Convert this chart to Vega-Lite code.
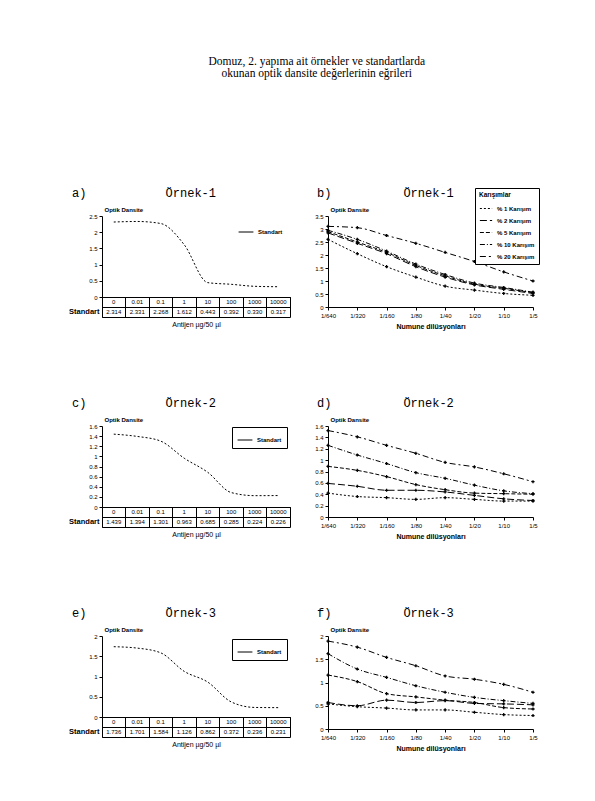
{
  "$schema": "https://vega.github.io/schema/vega-lite/v6.json",
  "background": "white",
  "padding": {"left": 68, "top": 56, "right": 5, "bottom": 5},
  "title": {
    "text": ["Domuz, 2. yapıma ait örnekler ve standartlarda", "okunan optik dansite değerlerinin eğrileri"],
    "font": "Liberation Serif", "fontSize": 11.5, "lineHeight": 12, "anchor": "middle", "offset": 107, "dx": 13, "color": "black", "fontWeight": "normal"
  },
  "datasets": {
    "std": [
      {"panel": "a", "order": 1, "conc": "0", "od": 2.314},
      {"panel": "a", "order": 2, "conc": "0.01", "od": 2.331},
      {"panel": "a", "order": 3, "conc": "0.1", "od": 2.268},
      {"panel": "a", "order": 4, "conc": "1", "od": 1.612},
      {"panel": "a", "order": 5, "conc": "10", "od": 0.443},
      {"panel": "a", "order": 6, "conc": "100", "od": 0.392},
      {"panel": "a", "order": 7, "conc": "1000", "od": 0.330},
      {"panel": "a", "order": 8, "conc": "10000", "od": 0.317},
      {"panel": "c", "order": 1, "conc": "0", "od": 1.439},
      {"panel": "c", "order": 2, "conc": "0.01", "od": 1.394},
      {"panel": "c", "order": 3, "conc": "0.1", "od": 1.301},
      {"panel": "c", "order": 4, "conc": "1", "od": 0.963},
      {"panel": "c", "order": 5, "conc": "10", "od": 0.685},
      {"panel": "c", "order": 6, "conc": "100", "od": 0.285},
      {"panel": "c", "order": 7, "conc": "1000", "od": 0.224},
      {"panel": "c", "order": 8, "conc": "10000", "od": 0.226},
      {"panel": "e", "order": 1, "conc": "0", "od": 1.736},
      {"panel": "e", "order": 2, "conc": "0.01", "od": 1.701},
      {"panel": "e", "order": 3, "conc": "0.1", "od": 1.584},
      {"panel": "e", "order": 4, "conc": "1", "od": 1.126},
      {"panel": "e", "order": 5, "conc": "10", "od": 0.862},
      {"panel": "e", "order": 6, "conc": "100", "od": 0.372},
      {"panel": "e", "order": 7, "conc": "1000", "od": 0.236},
      {"panel": "e", "order": 8, "conc": "10000", "od": 0.231}
    ],
    "dil": [
      {"panel": "b", "series": "% 20 Karışım", "order": 1, "dil": "1/640", "od": 3.1},
      {"panel": "b", "series": "% 20 Karışım", "order": 2, "dil": "1/320", "od": 3.05},
      {"panel": "b", "series": "% 20 Karışım", "order": 3, "dil": "1/160", "od": 2.75},
      {"panel": "b", "series": "% 20 Karışım", "order": 4, "dil": "1/80", "od": 2.45},
      {"panel": "b", "series": "% 20 Karışım", "order": 5, "dil": "1/40", "od": 2.1},
      {"panel": "b", "series": "% 20 Karışım", "order": 6, "dil": "1/20", "od": 1.75},
      {"panel": "b", "series": "% 20 Karışım", "order": 7, "dil": "1/10", "od": 1.35},
      {"panel": "b", "series": "% 20 Karışım", "order": 8, "dil": "1/5", "od": 1.0},
      {"panel": "b", "series": "% 10 Karışım", "order": 1, "dil": "1/640", "od": 2.95},
      {"panel": "b", "series": "% 10 Karışım", "order": 2, "dil": "1/320", "od": 2.6},
      {"panel": "b", "series": "% 10 Karışım", "order": 3, "dil": "1/160", "od": 2.15},
      {"panel": "b", "series": "% 10 Karışım", "order": 4, "dil": "1/80", "od": 1.65},
      {"panel": "b", "series": "% 10 Karışım", "order": 5, "dil": "1/40", "od": 1.25},
      {"panel": "b", "series": "% 10 Karışım", "order": 6, "dil": "1/20", "od": 0.92},
      {"panel": "b", "series": "% 10 Karışım", "order": 7, "dil": "1/10", "od": 0.75},
      {"panel": "b", "series": "% 10 Karışım", "order": 8, "dil": "1/5", "od": 0.57},
      {"panel": "b", "series": "% 5 Karışım", "order": 1, "dil": "1/640", "od": 2.9},
      {"panel": "b", "series": "% 5 Karışım", "order": 2, "dil": "1/320", "od": 2.5},
      {"panel": "b", "series": "% 5 Karışım", "order": 3, "dil": "1/160", "od": 2.1},
      {"panel": "b", "series": "% 5 Karışım", "order": 4, "dil": "1/80", "od": 1.6},
      {"panel": "b", "series": "% 5 Karışım", "order": 5, "dil": "1/40", "od": 1.2},
      {"panel": "b", "series": "% 5 Karışım", "order": 6, "dil": "1/20", "od": 0.88},
      {"panel": "b", "series": "% 5 Karışım", "order": 7, "dil": "1/10", "od": 0.72},
      {"panel": "b", "series": "% 5 Karışım", "order": 8, "dil": "1/5", "od": 0.55},
      {"panel": "b", "series": "% 2 Karışım", "order": 1, "dil": "1/640", "od": 2.85},
      {"panel": "b", "series": "% 2 Karışım", "order": 2, "dil": "1/320", "od": 2.45},
      {"panel": "b", "series": "% 2 Karışım", "order": 3, "dil": "1/160", "od": 2.05},
      {"panel": "b", "series": "% 2 Karışım", "order": 4, "dil": "1/80", "od": 1.55},
      {"panel": "b", "series": "% 2 Karışım", "order": 5, "dil": "1/40", "od": 1.15},
      {"panel": "b", "series": "% 2 Karışım", "order": 6, "dil": "1/20", "od": 0.85},
      {"panel": "b", "series": "% 2 Karışım", "order": 7, "dil": "1/10", "od": 0.68},
      {"panel": "b", "series": "% 2 Karışım", "order": 8, "dil": "1/5", "od": 0.52},
      {"panel": "b", "series": "% 1 Karışım", "order": 1, "dil": "1/640", "od": 2.6},
      {"panel": "b", "series": "% 1 Karışım", "order": 2, "dil": "1/320", "od": 2.05},
      {"panel": "b", "series": "% 1 Karışım", "order": 3, "dil": "1/160", "od": 1.55},
      {"panel": "b", "series": "% 1 Karışım", "order": 4, "dil": "1/80", "od": 1.15},
      {"panel": "b", "series": "% 1 Karışım", "order": 5, "dil": "1/40", "od": 0.8},
      {"panel": "b", "series": "% 1 Karışım", "order": 6, "dil": "1/20", "od": 0.65},
      {"panel": "b", "series": "% 1 Karışım", "order": 7, "dil": "1/10", "od": 0.52},
      {"panel": "b", "series": "% 1 Karışım", "order": 8, "dil": "1/5", "od": 0.45},
      {"panel": "d", "series": "% 20 Karışım", "order": 1, "dil": "1/640", "od": 1.52},
      {"panel": "d", "series": "% 20 Karışım", "order": 2, "dil": "1/320", "od": 1.41},
      {"panel": "d", "series": "% 20 Karışım", "order": 3, "dil": "1/160", "od": 1.26},
      {"panel": "d", "series": "% 20 Karışım", "order": 4, "dil": "1/80", "od": 1.12},
      {"panel": "d", "series": "% 20 Karışım", "order": 5, "dil": "1/40", "od": 0.96},
      {"panel": "d", "series": "% 20 Karışım", "order": 6, "dil": "1/20", "od": 0.88},
      {"panel": "d", "series": "% 20 Karışım", "order": 7, "dil": "1/10", "od": 0.76},
      {"panel": "d", "series": "% 20 Karışım", "order": 8, "dil": "1/5", "od": 0.62},
      {"panel": "d", "series": "% 10 Karışım", "order": 1, "dil": "1/640", "od": 1.26},
      {"panel": "d", "series": "% 10 Karışım", "order": 2, "dil": "1/320", "od": 1.09},
      {"panel": "d", "series": "% 10 Karışım", "order": 3, "dil": "1/160", "od": 0.94},
      {"panel": "d", "series": "% 10 Karışım", "order": 4, "dil": "1/80", "od": 0.78},
      {"panel": "d", "series": "% 10 Karışım", "order": 5, "dil": "1/40", "od": 0.68},
      {"panel": "d", "series": "% 10 Karışım", "order": 6, "dil": "1/20", "od": 0.56},
      {"panel": "d", "series": "% 10 Karışım", "order": 7, "dil": "1/10", "od": 0.46},
      {"panel": "d", "series": "% 10 Karışım", "order": 8, "dil": "1/5", "od": 0.41},
      {"panel": "d", "series": "% 5 Karışım", "order": 1, "dil": "1/640", "od": 0.89},
      {"panel": "d", "series": "% 5 Karışım", "order": 2, "dil": "1/320", "od": 0.82},
      {"panel": "d", "series": "% 5 Karışım", "order": 3, "dil": "1/160", "od": 0.71},
      {"panel": "d", "series": "% 5 Karışım", "order": 4, "dil": "1/80", "od": 0.57},
      {"panel": "d", "series": "% 5 Karışım", "order": 5, "dil": "1/40", "od": 0.48},
      {"panel": "d", "series": "% 5 Karışım", "order": 6, "dil": "1/20", "od": 0.42},
      {"panel": "d", "series": "% 5 Karışım", "order": 7, "dil": "1/10", "od": 0.41},
      {"panel": "d", "series": "% 5 Karışım", "order": 8, "dil": "1/5", "od": 0.40},
      {"panel": "d", "series": "% 2 Karışım", "order": 1, "dil": "1/640", "od": 0.59},
      {"panel": "d", "series": "% 2 Karışım", "order": 2, "dil": "1/320", "od": 0.54},
      {"panel": "d", "series": "% 2 Karışım", "order": 3, "dil": "1/160", "od": 0.47},
      {"panel": "d", "series": "% 2 Karışım", "order": 4, "dil": "1/80", "od": 0.47},
      {"panel": "d", "series": "% 2 Karışım", "order": 5, "dil": "1/40", "od": 0.44},
      {"panel": "d", "series": "% 2 Karışım", "order": 6, "dil": "1/20", "od": 0.38},
      {"panel": "d", "series": "% 2 Karışım", "order": 7, "dil": "1/10", "od": 0.32},
      {"panel": "d", "series": "% 2 Karışım", "order": 8, "dil": "1/5", "od": 0.29},
      {"panel": "d", "series": "% 1 Karışım", "order": 1, "dil": "1/640", "od": 0.42},
      {"panel": "d", "series": "% 1 Karışım", "order": 2, "dil": "1/320", "od": 0.36},
      {"panel": "d", "series": "% 1 Karışım", "order": 3, "dil": "1/160", "od": 0.34},
      {"panel": "d", "series": "% 1 Karışım", "order": 4, "dil": "1/80", "od": 0.31},
      {"panel": "d", "series": "% 1 Karışım", "order": 5, "dil": "1/40", "od": 0.34},
      {"panel": "d", "series": "% 1 Karışım", "order": 6, "dil": "1/20", "od": 0.31},
      {"panel": "d", "series": "% 1 Karışım", "order": 7, "dil": "1/10", "od": 0.28},
      {"panel": "d", "series": "% 1 Karışım", "order": 8, "dil": "1/5", "od": 0.28},
      {"panel": "f", "series": "% 20 Karışım", "order": 1, "dil": "1/640", "od": 1.89},
      {"panel": "f", "series": "% 20 Karışım", "order": 2, "dil": "1/320", "od": 1.76},
      {"panel": "f", "series": "% 20 Karışım", "order": 3, "dil": "1/160", "od": 1.54},
      {"panel": "f", "series": "% 20 Karışım", "order": 4, "dil": "1/80", "od": 1.36},
      {"panel": "f", "series": "% 20 Karışım", "order": 5, "dil": "1/40", "od": 1.14},
      {"panel": "f", "series": "% 20 Karışım", "order": 6, "dil": "1/20", "od": 1.07},
      {"panel": "f", "series": "% 20 Karışım", "order": 7, "dil": "1/10", "od": 0.96},
      {"panel": "f", "series": "% 20 Karışım", "order": 8, "dil": "1/5", "od": 0.79},
      {"panel": "f", "series": "% 10 Karışım", "order": 1, "dil": "1/640", "od": 1.62},
      {"panel": "f", "series": "% 10 Karışım", "order": 2, "dil": "1/320", "od": 1.29},
      {"panel": "f", "series": "% 10 Karışım", "order": 3, "dil": "1/160", "od": 1.11},
      {"panel": "f", "series": "% 10 Karışım", "order": 4, "dil": "1/80", "od": 0.93},
      {"panel": "f", "series": "% 10 Karışım", "order": 5, "dil": "1/40", "od": 0.79},
      {"panel": "f", "series": "% 10 Karışım", "order": 6, "dil": "1/20", "od": 0.68},
      {"panel": "f", "series": "% 10 Karışım", "order": 7, "dil": "1/10", "od": 0.61},
      {"panel": "f", "series": "% 10 Karışım", "order": 8, "dil": "1/5", "od": 0.55},
      {"panel": "f", "series": "% 5 Karışım", "order": 1, "dil": "1/640", "od": 1.16},
      {"panel": "f", "series": "% 5 Karışım", "order": 2, "dil": "1/320", "od": 1.02},
      {"panel": "f", "series": "% 5 Karışım", "order": 3, "dil": "1/160", "od": 0.76},
      {"panel": "f", "series": "% 5 Karışım", "order": 4, "dil": "1/80", "od": 0.69},
      {"panel": "f", "series": "% 5 Karışım", "order": 5, "dil": "1/40", "od": 0.62},
      {"panel": "f", "series": "% 5 Karışım", "order": 6, "dil": "1/20", "od": 0.57},
      {"panel": "f", "series": "% 5 Karışım", "order": 7, "dil": "1/10", "od": 0.46},
      {"panel": "f", "series": "% 5 Karışım", "order": 8, "dil": "1/5", "od": 0.43},
      {"panel": "f", "series": "% 2 Karışım", "order": 1, "dil": "1/640", "od": 0.57},
      {"panel": "f", "series": "% 2 Karışım", "order": 2, "dil": "1/320", "od": 0.50},
      {"panel": "f", "series": "% 2 Karışım", "order": 3, "dil": "1/160", "od": 0.62},
      {"panel": "f", "series": "% 2 Karışım", "order": 4, "dil": "1/80", "od": 0.57},
      {"panel": "f", "series": "% 2 Karışım", "order": 5, "dil": "1/40", "od": 0.61},
      {"panel": "f", "series": "% 2 Karışım", "order": 6, "dil": "1/20", "od": 0.55},
      {"panel": "f", "series": "% 2 Karışım", "order": 7, "dil": "1/10", "od": 0.54},
      {"panel": "f", "series": "% 2 Karışım", "order": 8, "dil": "1/5", "od": 0.52},
      {"panel": "f", "series": "% 1 Karışım", "order": 1, "dil": "1/640", "od": 0.54},
      {"panel": "f", "series": "% 1 Karışım", "order": 2, "dil": "1/320", "od": 0.48},
      {"panel": "f", "series": "% 1 Karışım", "order": 3, "dil": "1/160", "od": 0.45},
      {"panel": "f", "series": "% 1 Karışım", "order": 4, "dil": "1/80", "od": 0.41},
      {"panel": "f", "series": "% 1 Karışım", "order": 5, "dil": "1/40", "od": 0.41},
      {"panel": "f", "series": "% 1 Karışım", "order": 6, "dil": "1/20", "od": 0.36},
      {"panel": "f", "series": "% 1 Karışım", "order": 7, "dil": "1/10", "od": 0.31},
      {"panel": "f", "series": "% 1 Karışım", "order": 8, "dil": "1/5", "od": 0.29}
    ]
  },
  "spacing": 68,
  "resolve": {"scale": {"color": "independent", "strokeDash": "independent"}, "legend": {"color": "independent", "strokeDash": "independent"}},
  "vconcat": [
    {
      "spacing": 23,
      "resolve": {"scale": {"color": "independent", "strokeDash": "independent"}, "legend": {"color": "independent", "strokeDash": "independent"}},
      "hconcat": [
        {
          "spacing": 0,
          "bounds": "flush",
          "resolve": {"scale": {"color": "independent"}, "legend": {"color": "independent"}},
          "vconcat": [
            {
              "width": 188, "height": 81,
              "title": {"text": "a)\u00a0\u00a0\u00a0\u00a0\u00a0\u00a0\u00a0\u00a0\u00a0\u00a0\u00a0Örnek-1", "anchor": "start", "frame": "group", "dx": -30, "offset": 6},
              "data": {"name": "std"},
              "transform": [{"filter": "datum.panel == 'a'"}],
              "mark": {"type": "line", "interpolate": "monotone", "strokeDash": [2, 2], "strokeWidth": 1},
              "encoding": {
                "x": {"field": "conc", "type": "ordinal", "sort": {"field": "order"}, "bandPosition": 0.5, "scale": {"type": "band", "paddingInner": 0, "paddingOuter": 0}, "axis": {"labels": false, "ticks": false, "title": null}},
                "y": {"field": "od", "type": "quantitative", "scale": {"domain": [0, 2.5]}, "axis": {"values": [0, 0.5, 1, 1.5, 2, 2.5], "format": "~g", "title": "Optik Dansite"}},
                "color": {"datum": "Standart", "type": "nominal", "scale": {"range": ["black"]}, "legend": {"orient": "none", "legendX": 132, "legendY": 4, "title": null}}
              }
            },
            {
              "width": 188, "height": 20,
              "data": {"name": "std"},
              "transform": [{"filter": "datum.panel == 'a'"}],
              "view": {"stroke": "black", "strokeWidth": 1},
              "encoding": {
                "x": {"field": "conc", "type": "ordinal", "sort": {"field": "order"}, "scale": {"type": "band", "paddingInner": 0, "paddingOuter": 0}, "axis": {"labels": false, "ticks": false, "domain": false, "grid": true, "gridColor": "black", "gridOpacity": 1, "bandPosition": 0, "title": "Antijen µg/50 µl", "titlePadding": 3, "titleFontWeight": "normal"}}
              },
              "layer": [
                {"mark": {"type": "text", "fontSize": 6, "color": "black"}, "encoding": {"y": {"datum": "Antijen", "type": "nominal", "scale": {"type": "band", "domain": ["Antijen", "Standart"], "paddingInner": 0, "paddingOuter": 0}, "axis": {"title": null, "domain": false, "ticks": false, "grid": true, "gridColor": "black", "gridOpacity": 1, "bandPosition": 0, "labelExpr": "datum.value == 'Standart' ? 'Standart' : ''", "labelFontSize": 7.5, "labelFontWeight": "bold", "labelPadding": 3}}, "text": {"field": "conc"}}},
                {"mark": {"type": "text", "fontSize": 6, "color": "black"}, "encoding": {"y": {"datum": "Standart", "type": "nominal"}, "text": {"field": "od", "format": ".3f"}}}
              ]
            }
          ]
        },
        {
          "width": 205, "height": 91,
          "title": {"text": "b)\u00a0\u00a0\u00a0\u00a0\u00a0\u00a0\u00a0\u00a0\u00a0\u00a0Örnek-1", "anchor": "start", "frame": "group", "dx": -11, "offset": -12},
          "data": {"name": "dil"},
          "transform": [{"filter": "datum.panel == 'b'"}],
          "encoding": {
            "x": {"field": "dil", "type": "ordinal", "sort": {"field": "order"}, "scale": {"type": "point", "padding": 0}, "axis": {"labelAngle": 0, "title": "Numune dilüsyonları"}},
            "y": {"field": "od", "type": "quantitative", "scale": {"domain": [0, 3.5]}, "axis": {"values": [0, 0.5, 1, 1.5, 2, 2.5, 3, 3.5], "format": "~g", "title": "Optik Dansite"}}
          },
          "layer": [
            {"mark": {"type": "line", "interpolate": "monotone", "strokeWidth": 1, "color": "black"},
             "encoding": {"strokeDash": {"field": "series", "type": "nominal", "scale": {"domain": ["% 1 Karışım", "% 2 Karışım", "% 5 Karışım", "% 10 Karışım", "% 20 Karışım"], "range": [[2, 2], [7, 3], [4, 2], [5, 2, 1, 2], [6, 3, 2, 3]]}, "legend": {"orient": "none", "legendX": 147, "legendY": -28, "title": "Karışımlar", "strokeColor": "black", "fillColor": "white", "symbolType": "stroke", "symbolSize": 150}}}},
            {"mark": {"type": "point", "shape": "cross", "filled": true, "color": "black", "size": 10, "opacity": 1}, "encoding": {}}
          ]
        }
      ]
    },
    {
      "spacing": 23,
      "resolve": {"scale": {"color": "independent", "strokeDash": "independent"}, "legend": {"color": "independent", "strokeDash": "independent"}},
      "hconcat": [
        {
          "spacing": 0,
          "bounds": "flush",
          "resolve": {"scale": {"color": "independent"}, "legend": {"color": "independent"}},
          "vconcat": [
            {
              "width": 188, "height": 81,
              "title": {"text": "c)\u00a0\u00a0\u00a0\u00a0\u00a0\u00a0\u00a0\u00a0\u00a0\u00a0\u00a0Örnek-2", "anchor": "start", "frame": "group", "dx": -30, "offset": 6},
              "data": {"name": "std"},
              "transform": [{"filter": "datum.panel == 'c'"}],
              "mark": {"type": "line", "interpolate": "monotone", "strokeDash": [2, 2], "strokeWidth": 1},
              "encoding": {
                "x": {"field": "conc", "type": "ordinal", "sort": {"field": "order"}, "bandPosition": 0.5, "scale": {"type": "band", "paddingInner": 0, "paddingOuter": 0}, "axis": {"labels": false, "ticks": false, "title": null}},
                "y": {"field": "od", "type": "quantitative", "scale": {"domain": [0, 1.6]}, "axis": {"values": [0, 0.2, 0.4, 0.6, 0.8, 1, 1.2, 1.4, 1.6], "format": "~g", "title": "Optik Dansite"}},
                "color": {"datum": "Standart", "type": "nominal", "scale": {"range": ["black"]}, "legend": {"orient": "none", "legendX": 130, "legendY": 1, "title": null, "strokeColor": "black", "fillColor": "white", "padding": 5}}
              }
            },
            {
              "width": 188, "height": 20,
              "data": {"name": "std"},
              "transform": [{"filter": "datum.panel == 'c'"}],
              "view": {"stroke": "black", "strokeWidth": 1},
              "encoding": {
                "x": {"field": "conc", "type": "ordinal", "sort": {"field": "order"}, "scale": {"type": "band", "paddingInner": 0, "paddingOuter": 0}, "axis": {"labels": false, "ticks": false, "domain": false, "grid": true, "gridColor": "black", "gridOpacity": 1, "bandPosition": 0, "title": "Antijen µg/50 µl", "titlePadding": 3, "titleFontWeight": "normal"}}
              },
              "layer": [
                {"mark": {"type": "text", "fontSize": 6, "color": "black"}, "encoding": {"y": {"datum": "Antijen", "type": "nominal", "scale": {"type": "band", "domain": ["Antijen", "Standart"], "paddingInner": 0, "paddingOuter": 0}, "axis": {"title": null, "domain": false, "ticks": false, "grid": true, "gridColor": "black", "gridOpacity": 1, "bandPosition": 0, "labelExpr": "datum.value == 'Standart' ? 'Standart' : ''", "labelFontSize": 7.5, "labelFontWeight": "bold", "labelPadding": 3}}, "text": {"field": "conc"}}},
                {"mark": {"type": "text", "fontSize": 6, "color": "black"}, "encoding": {"y": {"datum": "Standart", "type": "nominal"}, "text": {"field": "od", "format": ".3f"}}}
              ]
            }
          ]
        },
        {
          "width": 205, "height": 91,
          "title": {"text": "d)\u00a0\u00a0\u00a0\u00a0\u00a0\u00a0\u00a0\u00a0\u00a0\u00a0Örnek-2", "anchor": "start", "frame": "group", "dx": -11, "offset": 6},
          "data": {"name": "dil"},
          "transform": [{"filter": "datum.panel == 'd'"}],
          "encoding": {
            "x": {"field": "dil", "type": "ordinal", "sort": {"field": "order"}, "scale": {"type": "point", "padding": 0}, "axis": {"labelAngle": 0, "title": "Numune dilüsyonları"}},
            "y": {"field": "od", "type": "quantitative", "scale": {"domain": [0, 1.6]}, "axis": {"values": [0, 0.2, 0.4, 0.6, 0.8, 1, 1.2, 1.4, 1.6], "format": "~g", "title": "Optik Dansite"}}
          },
          "layer": [
            {"mark": {"type": "line", "interpolate": "monotone", "strokeWidth": 1, "color": "black"},
             "encoding": {"strokeDash": {"field": "series", "type": "nominal", "scale": {"domain": ["% 1 Karışım", "% 2 Karışım", "% 5 Karışım", "% 10 Karışım", "% 20 Karışım"], "range": [[2, 2], [7, 3], [4, 2], [5, 2, 1, 2], [6, 3, 2, 3]]}, "legend": null}}},
            {"mark": {"type": "point", "shape": "cross", "filled": true, "color": "black", "size": 10, "opacity": 1}, "encoding": {}}
          ]
        }
      ]
    },
    {
      "spacing": 23,
      "resolve": {"scale": {"color": "independent", "strokeDash": "independent"}, "legend": {"color": "independent", "strokeDash": "independent"}},
      "hconcat": [
        {
          "spacing": 0,
          "bounds": "flush",
          "resolve": {"scale": {"color": "independent"}, "legend": {"color": "independent"}},
          "vconcat": [
            {
              "width": 188, "height": 81,
              "title": {"text": "e)\u00a0\u00a0\u00a0\u00a0\u00a0\u00a0\u00a0\u00a0\u00a0\u00a0\u00a0Örnek-3", "anchor": "start", "frame": "group", "dx": -30, "offset": 6},
              "data": {"name": "std"},
              "transform": [{"filter": "datum.panel == 'e'"}],
              "mark": {"type": "line", "interpolate": "monotone", "strokeDash": [2, 2], "strokeWidth": 1},
              "encoding": {
                "x": {"field": "conc", "type": "ordinal", "sort": {"field": "order"}, "bandPosition": 0.5, "scale": {"type": "band", "paddingInner": 0, "paddingOuter": 0}, "axis": {"labels": false, "ticks": false, "title": null}},
                "y": {"field": "od", "type": "quantitative", "scale": {"domain": [0, 2]}, "axis": {"values": [0, 0.5, 1, 1.5, 2], "format": "~g", "title": "Optik Dansite"}},
                "color": {"datum": "Standart", "type": "nominal", "scale": {"range": ["black"]}, "legend": {"orient": "none", "legendX": 130, "legendY": 3, "title": null, "strokeColor": "black", "fillColor": "white", "padding": 5}}
              }
            },
            {
              "width": 188, "height": 20,
              "data": {"name": "std"},
              "transform": [{"filter": "datum.panel == 'e'"}],
              "view": {"stroke": "black", "strokeWidth": 1},
              "encoding": {
                "x": {"field": "conc", "type": "ordinal", "sort": {"field": "order"}, "scale": {"type": "band", "paddingInner": 0, "paddingOuter": 0}, "axis": {"labels": false, "ticks": false, "domain": false, "grid": true, "gridColor": "black", "gridOpacity": 1, "bandPosition": 0, "title": "Antijen µg/50 µl", "titlePadding": 3, "titleFontWeight": "normal"}}
              },
              "layer": [
                {"mark": {"type": "text", "fontSize": 6, "color": "black"}, "encoding": {"y": {"datum": "Antijen", "type": "nominal", "scale": {"type": "band", "domain": ["Antijen", "Standart"], "paddingInner": 0, "paddingOuter": 0}, "axis": {"title": null, "domain": false, "ticks": false, "grid": true, "gridColor": "black", "gridOpacity": 1, "bandPosition": 0, "labelExpr": "datum.value == 'Standart' ? 'Standart' : ''", "labelFontSize": 7.5, "labelFontWeight": "bold", "labelPadding": 3}}, "text": {"field": "conc"}}},
                {"mark": {"type": "text", "fontSize": 6, "color": "black"}, "encoding": {"y": {"datum": "Standart", "type": "nominal"}, "text": {"field": "od", "format": ".3f"}}}
              ]
            }
          ]
        },
        {
          "width": 205, "height": 93,
          "title": {"text": "f)\u00a0\u00a0\u00a0\u00a0\u00a0\u00a0\u00a0\u00a0\u00a0\u00a0Örnek-3", "anchor": "start", "frame": "group", "dx": -11, "offset": 6},
          "data": {"name": "dil"},
          "transform": [{"filter": "datum.panel == 'f'"}],
          "encoding": {
            "x": {"field": "dil", "type": "ordinal", "sort": {"field": "order"}, "scale": {"type": "point", "padding": 0}, "axis": {"labelAngle": 0, "title": "Numune dilüsyonları"}},
            "y": {"field": "od", "type": "quantitative", "scale": {"domain": [0, 2]}, "axis": {"values": [0, 0.5, 1, 1.5, 2], "format": "~g", "title": "Optik Dansite"}}
          },
          "layer": [
            {"mark": {"type": "line", "interpolate": "monotone", "strokeWidth": 1, "color": "black"},
             "encoding": {"strokeDash": {"field": "series", "type": "nominal", "scale": {"domain": ["% 1 Karışım", "% 2 Karışım", "% 5 Karışım", "% 10 Karışım", "% 20 Karışım"], "range": [[2, 2], [7, 3], [4, 2], [5, 2, 1, 2], [6, 3, 2, 3]]}, "legend": null}}},
            {"mark": {"type": "point", "shape": "cross", "filled": true, "color": "black", "size": 10, "opacity": 1}, "encoding": {}}
          ]
        }
      ]
    }
  ],
  "config": {
    "view": {"stroke": null},
    "font": "Liberation Sans",
    "axis": {"domainColor": "black", "tickColor": "black", "labelColor": "black", "titleColor": "black", "labelFontSize": 6, "titleFontSize": 7, "titleFontWeight": "bold", "tickSize": 3, "grid": false, "labelPadding": 2},
    "axisY": {"titleAngle": 0, "titleAlign": "left", "titleBaseline": "bottom", "titleX": 2, "titleY": -4, "titleFontSize": 6},
    "title": {"font": "Liberation Mono", "fontSize": 12, "fontWeight": "normal", "color": "black"},
    "legend": {"labelFontSize": 6, "labelFontWeight": "bold", "titleFontSize": 6.5, "titleFontWeight": "bold", "labelColor": "black", "titleColor": "black", "symbolType": "stroke", "symbolStrokeColor": "black", "symbolStrokeWidth": 1, "symbolSize": 220, "rowPadding": 2, "padding": 4, "titlePadding": 3}
  }
}
